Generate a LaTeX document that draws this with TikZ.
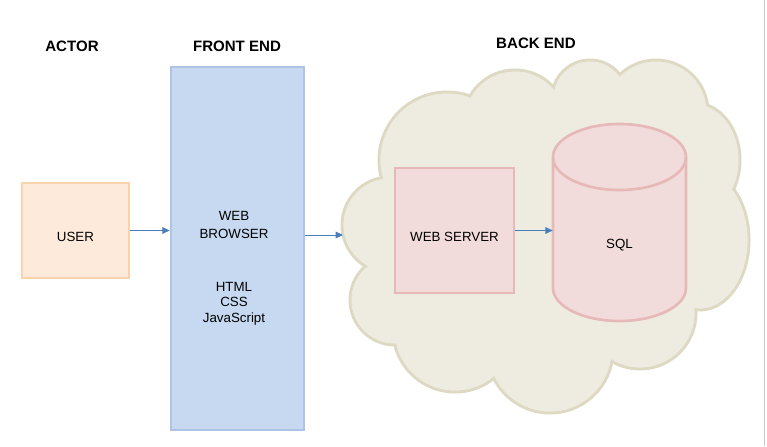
\documentclass[tikz,border=0pt]{standalone}
\usepackage{fontspec}
\setmainfont{Liberation Sans}
\usetikzlibrary{positioning, arrows.meta, calc}
\definecolor{userfill}{HTML}{FDEADA}
\definecolor{userline}{HTML}{F9D3AE}
\definecolor{frontfill}{HTML}{C6D9F1}
\definecolor{frontline}{HTML}{AFC4E4}
\definecolor{backfill}{HTML}{F2DCDB}
\definecolor{backline}{HTML}{E6B9B8}
\definecolor{cloudfill}{HTML}{EEECE1}
\definecolor{cloudline}{HTML}{DDD9C3}
\definecolor{arrowblue}{HTML}{4A7EBB}
\tikzset{
 block/.style = {
    rectangle, draw, line width=2pt,
    text centered,
    font=\fontsize{10}{12}\selectfont},
 user block/.style = {block, fill=userfill, draw=userline},
 front block/.style = {block, fill=frontfill, draw=frontline},
 back block/.style = {block, fill=backfill, draw=backline},
 plain text/.style = {align=center, font=\fontsize{10}{11.5}\selectfont},
 low text/.style = {label={[plain text, yshift=-4.5pt]center:#1}},
 line/.style = {
    draw=arrowblue, line width=0.75pt, -{Triangle[length=5.5pt,width=5pt]}},
 title/.style = {
    font=\fontsize{11.3}{13}\selectfont\bfseries},
}
\begin{document}
\begin{tikzpicture}[x=0.75pt, y=-0.75pt]
    \useasboundingbox (0,0) rectangle (767,446);
    \draw[black!22, line width=0.75pt] (764.5,0) -- (764.5,446);

    % Cloud for the back end
    \foreach \cx/\cy/\rx/\ry in {447/160/68/68, 515/122/52/52, 590/98/38/38,
        656/112/52/52, 695/160/45/57, 700/240/49/70, 640/313/56/56,
        550/350/63/63, 455/330/62/62, 395/300/45/45, 390/225/48/48}
        \draw[cloudline, fill=cloudfill, line width=2.25pt] (\cx,\cy) ellipse [x radius=\rx, y radius=\ry];
    \fill[cloudfill] (447,160) -- (515,122) -- (590,98) -- (656,112) -- (695,160) -- (700,240)
        -- (640,313) -- (550,350) -- (455,330) -- (395,300) -- (390,225) -- cycle;
    \foreach \cx/\cy/\rx/\ry in {447/160/68/68, 515/122/52/52, 590/98/38/38,
        656/112/52/52, 695/160/45/57, 700/240/49/70, 640/313/56/56,
        550/350/63/63, 455/330/62/62, 395/300/45/45, 390/225/48/48}
        \fill[cloudfill] (\cx,\cy) ellipse [x radius=\rx-1.6, y radius=\ry-1.6];
    \coordinate (cloudin) at (343,235);

    % Place nodes
    \node [title] (actor) at (72,46) {ACTOR};
    \node [title] (front) at (237,46) {FRONT END};
    \node [title] (back)  at (536,43) {BACK END};

    \node [user block, minimum width=80.25pt, minimum height=71.25pt, low text=USER] (user) at (75.5,230.5) {};
    \node [front block, minimum width=99.75pt, minimum height=272.25pt] (fe) at (237.5,248.5) {};
    \node [plain text] (browser) at (234,225) {WEB\\[1.5pt]BROWSER};
    \node [plain text] (tech) at (234,303.5) {HTML\\CSS\\JavaScript};
    \node [back block, minimum width=89.25pt, minimum height=93.75pt, low text=WEB SERVER] (ws) at (454.5,230.5) {};

    % Database cylinder
    \draw [backline, fill=backfill, line width=2pt] (553,157) -- (553,288)
        arc [start angle=180, end angle=0, x radius=66.5, y radius=33] -- (686,157)
        arc [start angle=0, end angle=-180, x radius=66.5, y radius=33] -- cycle;
    \draw [backline, line width=2pt] (553,157)
        arc [start angle=180, end angle=0, x radius=66.5, y radius=33];
    \node [plain text, minimum width=99.75pt] (sql) at (619.5,245) {SQL};

    \path [line] (user.east) -- (user.east -| fe.west);
    \path [line] (fe.east |- cloudin) -- (cloudin);
    \path [line] (ws.east) -- (ws.east -| sql.west);
\end{tikzpicture}
\end{document}
